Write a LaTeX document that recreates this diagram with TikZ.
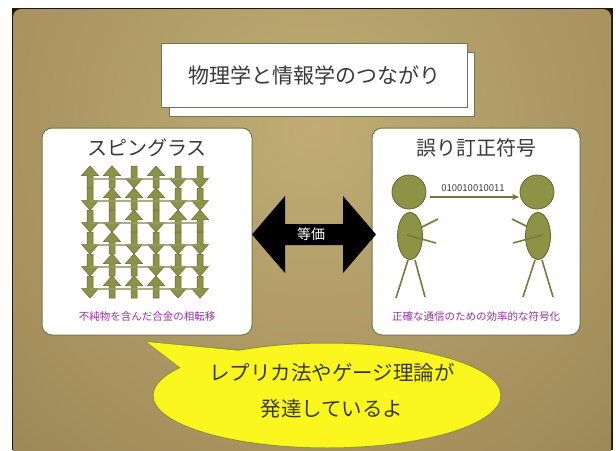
\documentclass[tikz,border=0pt]{standalone}
\usepackage{fontspec}
\setmainfont{Noto Sans CJK JP}
\usetikzlibrary{shapes.geometric,arrows.meta}

\definecolor{frameedge}{RGB}{28,24,16}
\definecolor{cardinner}{RGB}{192,172,116}
\definecolor{cardouter}{RGB}{120,97,58}
\definecolor{panelline}{RGB}{108,120,70}
\definecolor{ink}{RGB}{58,58,58}
\definecolor{olivefill}{RGB}{140,147,70}
\definecolor{oliveedge}{RGB}{98,104,46}
\definecolor{gridline}{RGB}{150,156,105}
\definecolor{caption}{RGB}{150,50,160}
\definecolor{bubblefill}{RGB}{250,246,30}
\definecolor{bubbleedge}{RGB}{140,150,60}

\begin{document}
\begin{tikzpicture}[x=1pt,y=-1pt,
  panel/.style={draw=panelline, line width=1pt, fill=white, rounded corners=10pt, inner sep=0pt},
  titlebox/.style={draw=panelline, line width=1pt, fill=white, inner sep=0pt,
    text=ink, font=\fontsize{21}{25}\selectfont},
  paneltitle/.style={text=ink, inner sep=0pt, font=\fontsize{20}{24}\selectfont},
  captiontext/.style={text=caption, inner sep=0pt, font=\fontsize{10.5}{12}\selectfont},
  spin/.style={fill=olivefill, draw=oliveedge, line width=0.5pt, line join=miter},
  head/.style={circle, minimum size=34pt, inner sep=0pt, fill=olivefill, draw=oliveedge, line width=0.8pt},
  torso/.style={ellipse, minimum width=25pt, minimum height=47pt, inner sep=0pt, fill=olivefill, draw=oliveedge, line width=0.8pt},
  limb/.style={draw=olivefill!85!black, line width=1.6pt},
  bubbletext/.style={text=ink, inner sep=0pt, align=center, font=\fontsize{20.5}{36}\selectfont}]
\useasboundingbox (0,0) rectangle (616,450);

% card background with dark rim
\fill[frameedge] (12,8) rectangle (613,450);
\begin{scope}
  \clip[rounded corners=8pt] (13,9) rectangle (611,458);
  \shade[inner color=cardinner, outer color=cardouter] (312,130) circle (920pt);
\end{scope}

% heading with stacked sheet behind it
\fill[white, draw=panelline, line width=1pt] (169,52) rectangle (474,116);
\node[titlebox, minimum width=306pt, minimum height=64pt] (title) at (314,75) {物理学と情報学のつながり};

% two panels
\node[panel, minimum width=210pt, minimum height=207pt] (spinpanel) at (147,231.5) {};
\node[panel, minimum width=208pt, minimum height=207pt] (codepanel) at (476,231.5) {};

\node[paneltitle] (spintitle) at (147,148) {スピングラス};
\node[paneltitle] (codetitle) at (476,148) {誤り訂正符号};

% spin lattice: 1 = up, -1 = down
\foreach \r/\pat in {0/{1,1,-1,1,-1,-1},1/{-1,1,1,1,-1,-1},2/{-1,-1,1,-1,1,1},
                     3/{-1,1,-1,-1,-1,-1},4/{-1,1,1,-1,-1,-1},5/{-1,1,1,1,-1,-1}}{
  \foreach \d [count=\c from 0] in \pat {
    \begin{scope}[shift={({90+22*\c},{177+22*\r})}, yscale=\d]
      \path[spin] (0,-11) -- (8.5,-1.5) -- (3,-1.5) -- (3,11) -- (-3,11)
        -- (-3,-1.5) -- (-8.5,-1.5) -- cycle;
    \end{scope}
  }
}
\foreach \r in {0,...,5}{
  \draw[gridline, line width=1.1pt, opacity=0.8] (90,{179+22*\r}) -- (200,{179+22*\r});
}

\node[captiontext] (spincap) at (147,317) {不純物を含んだ合金の相転移};

% sender
\draw[limb] (408,260) -- (396,298);
\draw[limb] (415,260) -- (425,297);
\draw[limb] (420,228) -- (438,219);
\node[head] (headL) at (409,192) {};
\node[torso] (bodyL) at (410,236) {};
\draw[limb] (407,235) -- (436,243);

% receiver
\draw[limb] (535,260) -- (523,297);
\draw[limb] (542,260) -- (553,297);
\draw[limb] (512,219) -- (530,228);
\node[head] (headR) at (537,192) {};
\node[torso] (bodyR) at (538,236) {};
\draw[limb] (513,243) -- (543,235);

% transmitted word
\coordinate (msgA) at (430,197);
\coordinate (msgB) at (519,197);
\draw[draw=olivefill!80!black, line width=1.3pt, -{Stealth[length=7pt,width=6pt]}] (msgA) -- (msgB);
\node[text=ink, inner sep=0pt, font=\fontsize{9.5}{11}\selectfont] (bits) at (473,188) {010010010011};

\node[captiontext] (codecap) at (476,317) {正確な通信のための効率的な符号化};

% equivalence arrow
\fill[black] (252,234.5) -- (285,196) -- (285,224) -- (343,224) -- (343,196) -- (376,234.5)
  -- (343,273) -- (343,245) -- (285,245) -- (285,273) -- cycle;
\node[text=white, inner sep=0pt, font=\fontsize{14}{16}\selectfont] (equiv) at (311,234.5) {等価};

% speech bubble
\draw[bubbleedge, line width=1.4pt, line join=miter] (250,351) -- (147,342) -- (181,368);
\node[ellipse, minimum width=348pt, minimum height=105pt, inner sep=0pt,
  fill=bubblefill, draw=bubbleedge, line width=1pt] (bubble) at (327,395.5) {};
\fill[bubblefill] (252,352) -- (147,342) -- (181,368) -- (260,385) -- cycle;
\node[bubbletext] (talk) at (332,391) {レプリカ法やゲージ理論が\\発達しているよ};
\end{tikzpicture}
\end{document}
